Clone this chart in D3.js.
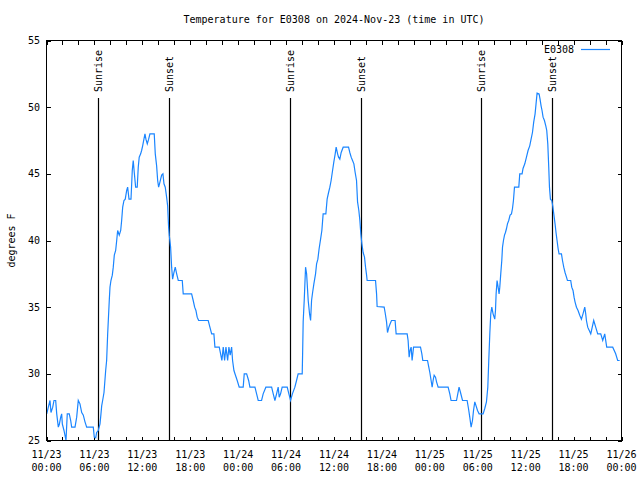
<!DOCTYPE html>
<html><head><meta charset="utf-8">
<script src="https://cdn.jsdelivr.net/npm/d3@7"></script>
<style>
html,body{margin:0;padding:0;background:#fff;}
svg{display:block;}
text{font-family:"DejaVu Sans Mono","Liberation Mono",monospace;font-size:10px;fill:#000;}
</style></head>
<body>
<script>
// ---- data (hours since 2024-11-23 00:00 UTC, temperature in degrees F) ----
const hours = [0.03,0.23,0.44,0.56,0.78,0.94,1.15,1.28,1.48,1.60,1.78,1.90,1.98,2.19,2.44,2.60,2.85,3.03,3.15,3.57,3.78,3.98,4.19,4.41,4.61,4.82,5.03,5.86,5.98,6.16,6.28,6.48,6.70,6.82,6.91,7.03,7.20,7.41,7.53,7.66,7.86,7.95,8.07,8.24,8.36,8.49,8.66,8.79,8.91,9.11,9.29,9.41,9.54,9.70,9.86,10.04,10.16,10.33,10.58,10.74,10.86,10.99,11.16,11.36,11.49,11.61,11.79,11.91,12.04,12.20,12.33,12.45,12.62,12.79,12.95,13.49,13.62,13.79,13.92,14.04,14.21,14.42,14.58,14.71,14.87,15.04,15.17,15.29,15.37,15.54,15.67,15.79,15.96,16.12,16.30,16.50,17.00,17.12,18.17,18.37,18.55,18.71,18.87,19.05,20.25,20.46,20.68,20.96,21.09,21.63,21.80,21.96,22.13,22.30,22.47,22.68,22.84,23.00,23.18,23.30,23.47,23.63,23.88,24.13,24.63,24.76,25.06,25.31,25.47,26.10,26.31,26.51,26.93,27.13,27.47,28.19,28.39,28.60,28.81,29.01,29.14,29.31,29.51,30.14,30.35,30.56,30.79,31.10,31.31,31.51,32.02,32.07,32.14,32.27,32.44,32.57,32.77,32.94,33.07,33.19,33.32,33.48,33.69,33.82,33.98,34.14,34.32,34.48,34.64,34.98,35.14,35.32,35.48,35.64,35.82,35.98,36.15,36.27,36.45,36.57,36.73,36.90,37.15,37.82,37.98,38.15,38.32,38.49,38.65,38.82,38.95,39.11,39.24,39.36,39.49,39.65,39.82,39.95,40.08,40.15,41.20,41.33,41.40,42.28,42.40,42.58,42.70,42.87,43.03,43.20,43.65,43.78,45.16,45.28,45.41,45.53,45.66,45.78,45.96,46.83,47.00,47.12,47.71,47.87,48.00,48.16,48.29,48.41,48.54,48.71,48.84,49.04,50.29,50.50,50.66,51.34,51.50,51.66,51.84,52.09,52.67,52.84,53.00,53.17,53.34,53.47,53.63,53.79,53.97,54.17,54.67,54.88,55.09,55.26,55.38,55.51,55.63,55.76,55.92,56.13,56.22,56.30,56.42,56.55,56.67,56.76,56.88,57.01,57.10,57.22,57.35,57.47,57.60,57.72,57.88,58.05,58.22,58.35,58.47,58.60,59.14,59.26,59.55,59.67,59.89,60.10,60.30,60.51,60.68,60.85,61.01,61.18,61.30,61.43,61.68,61.80,61.93,62.05,62.18,62.35,62.52,62.64,62.77,62.89,62.98,63.10,63.27,63.39,63.52,63.68,63.80,63.93,64.06,64.18,64.48,64.61,64.77,64.93,65.11,65.23,65.64,65.77,65.93,66.06,66.18,66.36,66.56,66.77,66.98,67.18,67.40,67.52,67.61,67.77,68.15,68.52,68.77,69.02,69.40,69.65,69.90,70.15,70.90,71.27,71.52,71.77];
const tempF = [27.0,27.5,28.0,27.1,27.5,28.0,28.0,27.0,26.0,26.2,26.75,27.0,26.25,25.75,25.0,27.0,27.0,26.5,26.0,26.0,26.75,28.0,27.75,27.1,26.9,26.4,26.0,26.0,25.25,25.2,25.6,25.75,26.25,27.0,27.6,28.0,28.6,30.25,31.0,33.0,35.5,36.5,37.0,37.4,38.0,38.9,39.25,40.0,40.75,40.4,40.75,41.5,42.5,43.0,43.1,43.75,44.0,43.1,43.1,45.25,46.0,45.1,44.0,44.0,45.5,46.25,46.5,46.75,47.1,47.6,48.0,47.6,47.25,47.6,48.0,48.0,46.5,45.6,44.5,44.0,44.4,44.9,45.0,44.25,44.0,43.25,42.6,41.0,40.4,39.5,38.0,37.1,37.6,38.0,37.5,37.0,37.0,36.0,36.0,35.5,35.0,34.75,34.25,34.0,34.0,33.5,33.0,33.0,32.0,32.0,31.5,31.0,32.0,31.0,32.0,31.0,32.0,31.4,32.0,31.0,30.25,29.95,29.5,29.0,29.0,30.0,30.0,29.5,29.0,29.0,28.5,28.0,28.0,28.5,29.0,29.0,28.5,28.0,28.5,29.0,28.25,28.5,29.0,29.0,28.5,28.0,28.5,29.0,29.5,30.0,30.0,31.5,33.9,35.5,38.0,37.5,35.5,34.5,34.0,35.5,36.1,36.75,37.5,38.25,38.6,39.4,40.1,40.75,42.0,42.0,43.1,43.6,44.0,44.5,45.25,45.9,46.5,47.0,46.5,46.25,46.1,46.6,47.0,47.0,46.6,46.25,46.0,45.75,45.1,44.5,42.9,42.25,41.5,40.5,39.75,39.1,38.75,38.0,37.4,37.0,37.0,36.0,35.05,35.0,34.6,33.9,33.1,33.5,33.75,34.0,34.0,33.0,33.0,32.5,31.25,31.75,32.0,31.0,32.0,32.0,31.5,31.0,31.0,30.5,30.1,29.5,29.0,29.5,29.9,29.75,29.4,29.0,29.0,28.5,28.0,28.0,28.5,29.0,28.6,28.0,28.0,27.4,26.75,26.0,26.5,27.25,27.9,27.6,27.25,27.0,27.0,27.4,27.9,29.0,31.0,33.0,34.5,35.0,34.5,34.1,34.75,36.0,37.0,36.5,36.0,36.5,37.5,38.5,39.5,40.0,40.4,40.6,40.9,41.25,41.5,41.9,42.0,42.4,43.0,44.0,44.0,45.0,45.0,45.4,45.75,46.25,46.75,47.1,47.6,48.1,48.9,49.5,50.25,51.05,51.0,50.6,50.1,49.75,49.25,49.0,48.6,48.25,47.25,45.5,44.0,43.1,43.0,42.6,42.0,41.25,40.6,40.0,39.4,39.0,39.0,38.5,38.0,37.6,37.25,37.0,37.0,36.5,36.25,35.75,35.4,35.0,34.75,34.4,34.1,34.5,35.0,34.5,34.0,33.5,33.0,34.0,33.5,33.0,33.0,32.5,33.0,32.0,32.0,31.5,31.0,31.0];
const sunriseTimes = ["2024-11-23T06:27:00Z","2024-11-24T06:28:00Z","2024-11-25T06:26:00Z"];
const sunsetTimes  = ["2024-11-23T15:20:00Z","2024-11-24T15:22:00Z","2024-11-25T15:21:00Z"];
const yTicks = [25,30,35,40,45,50,55];
const titleText = "Temperature for E0308 on 2024-Nov-23 (time in UTC)";
const seriesName = "E0308";
const yLabel = "degrees F";
const startMs = Date.UTC(2024,10,23,0,0);
const endMs = Date.UTC(2024,10,26,0,0);

// ---- layout ----
const W = 640, H = 480;
const L = 46.5, R = 621.5, T = 40.5, B = 440.5;
const lineColor = "#1a85ff";

const svg = d3.select("body").append("svg").attr("width", W).attr("height", H);

const x = d3.scaleUtc().domain([new Date(startMs), new Date(endMs)]).range([L, R]);
const y = d3.scaleLinear().domain([25, 55]).range([B, T]);

const data = hours.map((h, i) => ({t: new Date(startMs + h * 3600000), v: tempF[i]}));

// title
svg.append("text").attr("x", (L + R) / 2).attr("y", 23).attr("text-anchor", "middle").text(titleText);

// y label
svg.append("text").attr("transform", "translate(15," + ((T + B) / 2) + ") rotate(-90)")
  .attr("text-anchor", "middle").text(yLabel);

// clip
svg.append("clipPath").attr("id", "clip").append("rect")
  .attr("x", L).attr("y", T).attr("width", R - L).attr("height", B - T);

// axes ticks (inward, mirrored)
const tickLen = 4;
const g = svg.append("g").attr("shape-rendering", "crispEdges").attr("stroke", "#000");
const majorX = x.ticks(d3.utcHour.every(6));
const minorX = x.ticks(d3.utcHour.every(2));
minorX.forEach(d => {
  const xx = Math.round(x(d)) + 0.5;
  g.append("line").attr("x1", xx).attr("x2", xx).attr("y1", B).attr("y2", B - tickLen);
  g.append("line").attr("x1", xx).attr("x2", xx).attr("y1", T).attr("y2", T + tickLen);
});
yTicks.forEach(d => {
  const yy = Math.round(y(d)) + 0.5;
  g.append("line").attr("x1", L).attr("x2", L + tickLen).attr("y1", yy).attr("y2", yy);
  g.append("line").attr("x1", R).attr("x2", R - tickLen).attr("y1", yy).attr("y2", yy);
});

// x tick labels
const fmtDate = d3.utcFormat("%m/%d"), fmtTime = d3.utcFormat("%H:%M");
majorX.forEach(d => {
  const t = svg.append("text").attr("text-anchor", "middle").attr("x", x(d)).attr("y", 458);
  t.append("tspan").attr("x", x(d)).attr("y", 458).text(fmtDate(d));
  t.append("tspan").attr("x", x(d)).attr("y", 471).text(fmtTime(d));
});
// y tick labels
yTicks.forEach(d => {
  svg.append("text").attr("x", 40).attr("y", y(d)).attr("dy", "0.35em").attr("text-anchor", "end").text(d);
});

// sunrise / sunset lines
const events = sunriseTimes.map(s => ({t: new Date(s), label: "Sunrise"}))
  .concat(sunsetTimes.map(s => ({t: new Date(s), label: "Sunset"})));
events.forEach(e => {
  const xx = Math.round(x(e.t)) + 0.5;
  svg.append("line").attr("x1", xx).attr("x2", xx).attr("y1", B).attr("y2", 98)
    .attr("stroke", "#000").attr("stroke-width", 1.2);
  svg.append("text").attr("transform", "translate(" + (xx + 3.5) + ",92) rotate(-90)")
    .attr("text-anchor", "start").text(e.label);
});

// data line
const line = d3.line().x(d => x(d.t)).y(d => y(d.v));
svg.append("path").datum(data).attr("clip-path", "url(#clip)")
  .attr("fill", "none").attr("stroke", lineColor).attr("stroke-width", 1.2)
  .attr("stroke-linejoin", "miter").attr("d", line);

// frame
svg.append("rect").attr("x", L).attr("y", T).attr("width", R - L).attr("height", B - T)
  .attr("fill", "none").attr("stroke", "#000").attr("shape-rendering", "crispEdges");

// legend
svg.append("text").attr("x", 574).attr("y", 53).attr("text-anchor", "end").text(seriesName);
svg.append("line").attr("x1", 581).attr("x2", 610).attr("y1", 49.5).attr("y2", 49.5)
  .attr("stroke", lineColor).attr("stroke-width", 1.2);
</script>
</body></html>
